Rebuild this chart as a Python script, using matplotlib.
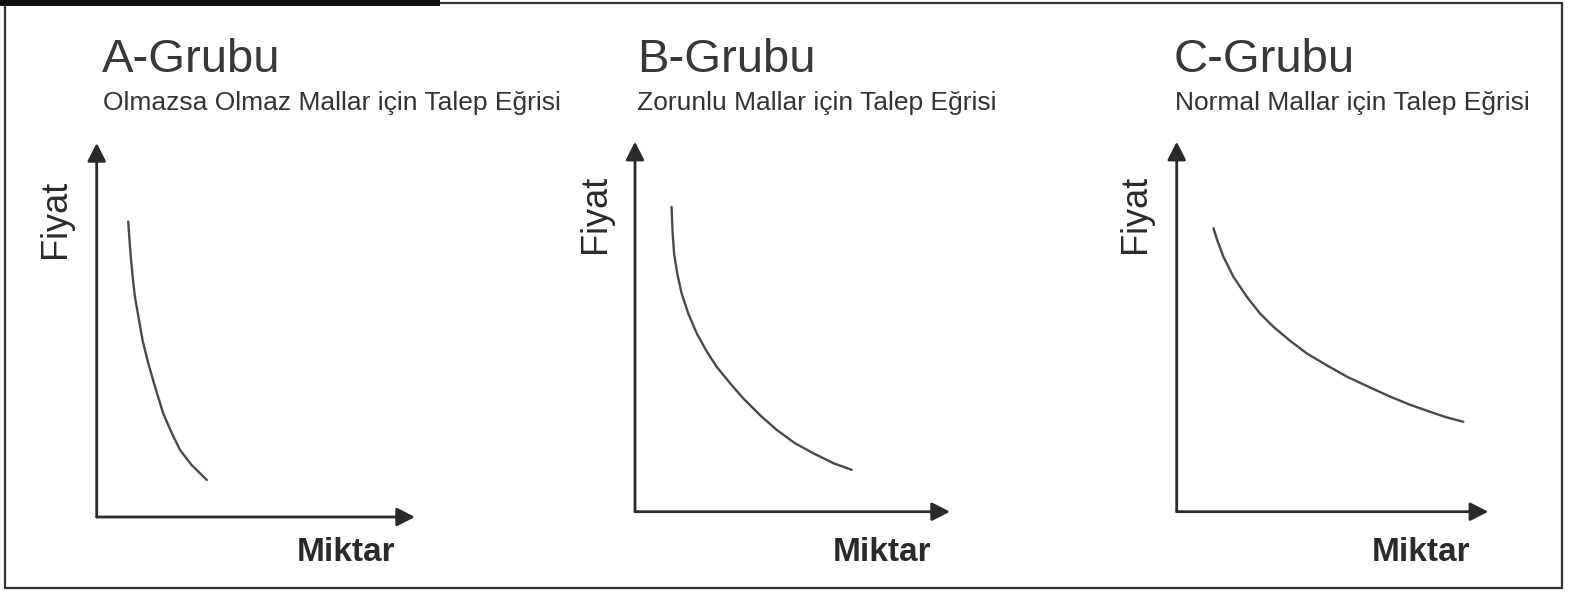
import matplotlib
matplotlib.use("Agg")
import matplotlib.pyplot as plt
from matplotlib.patches import Rectangle

plt.rcParams['font.family'] = ['Liberation Sans', 'DejaVu Sans']

W, H = 1578, 593

# Demand curves, in % of each axis length (quantity, price)
qty_a = [9.9, 10.3, 10.7, 11.3, 12.0, 13.1, 14.4, 16.2, 18.3, 20.9, 23.6, 26.2, 29.8, 34.6]
price_a = [79.0, 74.1, 69.6, 64.3, 58.9, 53.6, 47.3, 41.1, 34.9, 27.7, 22.4, 17.9, 13.9, 9.9]

qty_b = [11.6, 11.9, 12.4, 13.4, 14.8, 16.9, 19.6, 22.8, 25.9, 30.2, 34.4, 39.7,
         45.0, 50.8, 56.6, 63.0, 68.8]
price_b = [82.4, 76.1, 69.8, 64.4, 59.0, 53.6, 48.2, 43.3, 39.2, 34.7, 30.6, 26.1,
           22.1, 18.5, 15.8, 13.1, 11.3]

qty_c = [11.8, 13.0, 15.0, 18.2, 22.5, 26.7, 31.0, 36.4, 41.7, 48.1, 54.6, 62.0,
         68.5, 74.9, 81.3, 86.6, 92.0]
price_c = [76.6, 73.4, 68.9, 63.5, 58.1, 53.6, 50.0, 46.2, 42.8, 39.6, 36.5, 33.6,
           31.1, 28.9, 27.0, 25.5, 24.3]

titles = ['A-Grubu', 'B-Grubu', 'C-Grubu']
subtitles = ['Olmazsa Olmaz Mallar için Talep Eğrisi',
             'Zorunlu Mallar için Talep Eğrisi',
             'Normal Mallar için Talep Eğrisi']
xlabel = 'Miktar'
ylabel = 'Fiyat'


def px(x, y):
    return x / W, 1 - y / H


fig = plt.figure(figsize=(W / 100, H / 100), dpi=100)
fig.patch.set_facecolor('white')

# panel layout in pixels: origin x, origin y, x-arrow tip, y-arrow tip
panels = [
    (96.7, 517, 415, 143),
    (635, 511.7, 950, 141.7),
    (1176.7, 511.7, 1488.3, 141.7),
]
curves = [(qty_a, price_a), (qty_b, price_b), (qty_c, price_c)]
title_x = [102, 637, 1174]
sub_x = [103, 637, 1175]
ylab_pos = [(56, 219), (596, 214), (1136, 214)]
xlab_x = [297, 833, 1372]

for i in range(3):
    ox, oy, tx, ty = panels[i]
    l, b = px(ox, oy)
    ax = fig.add_axes([l, b, (tx - ox) / W, (oy - ty) / H])
    ax.set_xlim(0, 100)
    ax.set_ylim(0, 100)
    ax.axis('off')
    ax.patch.set_alpha(0)

    arrow = dict(arrowstyle='-|>,head_length=0.55,head_width=0.28',
                 lw=2, color='#2a2a2a', shrinkA=0, shrinkB=0, mutation_scale=20)
    ax.annotate('', xy=(1, 0), xytext=(0, 0), xycoords='axes fraction', arrowprops=arrow)
    ax.annotate('', xy=(0, 1), xytext=(0, 0), xycoords='axes fraction', arrowprops=arrow)

    q, p = curves[i]
    ax.plot(q, p, color='#4a4a4a', lw=1.7, solid_capstyle='round', solid_joinstyle='round')

    fig.text(*px(title_x[i], 72), titles[i], fontsize=34, color='#383838', va='baseline')
    fig.text(*px(sub_x[i], 110), subtitles[i], fontsize=19, color='#333333', va='baseline')
    fig.text(*px(*ylab_pos[i]), ylabel, fontsize=26, rotation=90, color='#2a2a2a',
             ha='center', va='center')
    fig.text(*px(xlab_x[i], 561), xlabel, fontsize=24, fontweight='bold', color='#2a2a2a',
             va='baseline')

# scanned page frame
fig.add_artist(Rectangle(px(5, 588), 1557 / W, 585 / H, transform=fig.transFigure,
                         fill=False, lw=1.6, edgecolor='#333333'))
fig.add_artist(Rectangle(px(0, 6), 440 / W, 6 / H, transform=fig.transFigure,
                         color='#111111', lw=0))

fig.savefig('out.png', dpi=100)
